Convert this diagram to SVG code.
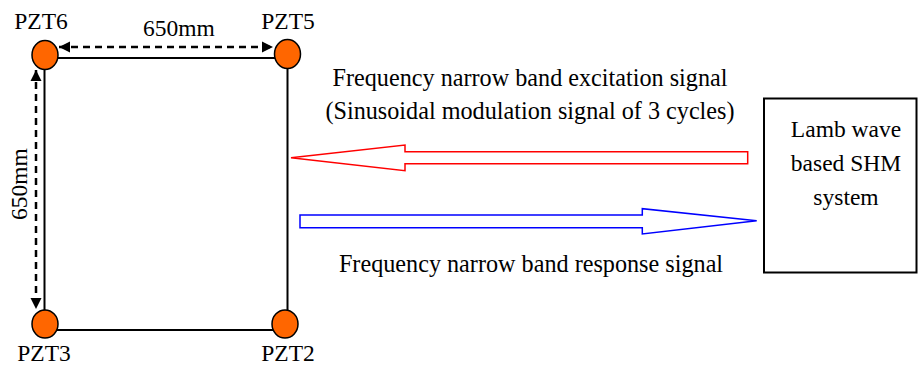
<svg xmlns="http://www.w3.org/2000/svg" width="918" height="367" viewBox="0 0 918 367">
<style>
text{font-family:'Liberation Serif','Times New Roman',Times,serif;font-size:23.5px;fill:#000}
.big{font-size:24.2px}
.pzt{fill:#ff6600;stroke:#000;stroke-width:1.5}
.frame{stroke:#000;stroke-width:2;fill:none}
.dim{stroke:#000;stroke-width:2.5;stroke-dasharray:7,5;fill:none}
</style>
<defs>
<marker id="ah" viewBox="0 0 10 10" refX="10" refY="5" markerWidth="4.5" markerHeight="4.5" orient="auto-start-reverse" markerUnits="strokeWidth">
<path d="M0,0 L10,5 L0,10 z" fill="#000"/>
</marker>
</defs>
<g id="connectors">
<path class="frame" d="M45,58 H287 M44.5,55 V324 M287.5,54 V324 M45,330 H285"/>
<path class="dim" d="M59,47 H273" marker-start="url(#ah)" marker-end="url(#ah)"/>
<path class="dim" d="M36,70 V309" marker-start="url(#ah)" marker-end="url(#ah)"/>
<polygon points="291,157.7 405,145 405,151.7 747.7,151.7 747.7,163.7 405,163.7 405,170.7" fill="none" stroke="#ff0000" stroke-width="1.5"/>
<polygon points="300,215 642.3,215 642.3,208.7 756.7,220.7 642.3,234 642.3,227.7 300,227.7" fill="none" stroke="#0000ff" stroke-width="1.5"/>
</g>
<g id="pzt6"><ellipse class="pzt" cx="45" cy="55" rx="13" ry="14.5"/><text x="41" y="29" text-anchor="middle">PZT6</text></g>
<g id="pzt5"><ellipse class="pzt" cx="287.5" cy="54" rx="13" ry="14.5"/><text x="288" y="29" text-anchor="middle">PZT5</text></g>
<g id="pzt3"><ellipse class="pzt" cx="45" cy="324" rx="13" ry="14"/><text x="44" y="361" text-anchor="middle">PZT3</text></g>
<g id="pzt2"><ellipse class="pzt" cx="285" cy="324" rx="13" ry="14"/><text x="288" y="361" text-anchor="middle">PZT2</text></g>
<g id="dims">
<text x="179" y="36" text-anchor="middle">650mm</text>
<text transform="translate(27,184) rotate(-90)" text-anchor="middle">650mm</text>
</g>
<g id="labels">
<text class="big" x="530" y="86" text-anchor="middle">Frequency narrow band excitation signal</text>
<text class="big" x="530" y="119" text-anchor="middle">(Sinusoidal modulation signal of 3 cycles)</text>
<text class="big" x="531" y="272" text-anchor="middle">Frequency narrow band response signal</text>
</g>
<g id="shm">
<rect x="764" y="98.5" width="152.5" height="174" fill="#fff" stroke="#000" stroke-width="2"/>
<text x="846" y="137" text-anchor="middle">Lamb wave</text>
<text x="846" y="171" text-anchor="middle">based SHM</text>
<text x="846" y="205" text-anchor="middle">system</text>
</g>
</svg>
